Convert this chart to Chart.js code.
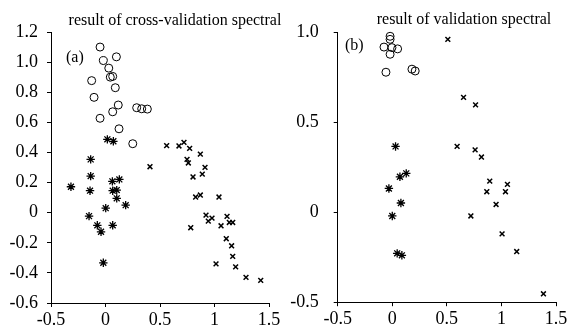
<!DOCTYPE html>
<html>
<head>
<meta charset="utf-8">
<script src="https://cdn.jsdelivr.net/npm/chart.js@4/dist/chart.umd.min.js"></script>
<style>
  html, body { margin: 0; padding: 0; background: #fff; }
  #wrap { position: relative; width: 571px; height: 328px; overflow: hidden; }
  #left { position: absolute; left: 0; top: 0; }
  #right { position: absolute; left: 290px; top: 0; }
</style>
</head>
<body>
<div id="wrap">
  <canvas id="left" width="290" height="328"></canvas>
  <canvas id="right" width="281" height="328"></canvas>
</div>
<script>
// Panel (a): cross-validation
const cvCircles = [[-0.05,1.10],[0.10,1.035],[-0.02,1.01],[0.03,0.96],[0.066,0.905],[0.044,0.90],[-0.127,0.877],[0.09,0.83],[-0.105,0.766],[0.117,0.715],[0.286,0.697],[0.332,0.69],[0.384,0.688],[0.066,0.67],[-0.05,0.627],[0.124,0.557],[0.25,0.458]];
const cvStars = [[0.017,0.487],[0.072,0.474],[-0.136,0.354],[-0.136,0.243],[-0.317,0.172],[-0.142,0.146],[0.063,0.208],[0.127,0.221],[0.066,0.146],[0.103,0.15],[0.103,0.095],[0.185,0.05],[0.002,0.03],[-0.151,-0.023],[-0.075,-0.084],[-0.041,-0.127],[0.066,-0.084],[-0.02,-0.333]];
const cvCrosses = [[0.561,0.445],[0.674,0.443],[0.72,0.467],[0.772,0.427],[0.87,0.389],[0.748,0.354],[0.76,0.33],[0.408,0.305],[0.913,0.301],[0.888,0.256],[0.803,0.237],[0.827,0.104],[0.87,0.117],[1.041,0.104],[0.922,-0.016],[0.943,-0.056],[0.977,-0.036],[0.782,-0.10],[1.06,-0.087],[1.115,-0.025],[1.136,-0.065],[1.167,-0.065],[1.108,-0.173],[1.157,-0.22],[1.167,-0.29],[1.014,-0.34],[1.194,-0.36],[1.289,-0.43],[1.424,-0.45]];

// Panel (b): validation
const vCircles = [[-0.02,0.98],[-0.02,0.963],[-0.076,0.92],[-0.003,0.917],[0.049,0.91],[-0.02,0.88],[-0.058,0.78],[0.18,0.797],[0.21,0.787]];
const vStars = [[0.03,0.367],[0.07,0.198],[0.128,0.217],[-0.031,0.133],[0.079,0.052],[0,-0.02],[0.045,-0.228],[0.088,-0.239]];
const vCrosses = [[0.509,0.963],[0.653,0.64],[0.763,0.598],[0.594,0.367],[0.759,0.348],[0.817,0.308],[0.893,0.174],[0.866,0.115],[1.055,0.156],[1.037,0.115],[0.951,0.044],[0.72,-0.02],[1.006,-0.12],[1.14,-0.218],[1.385,-0.453]];

// ticks
const xTicks = [-0.5, 0, 0.5, 1, 1.5];
const xLabels = ['-0.5', '0', '0.5', '1', '1.5'];
const cvYTicks = [-0.6, -0.4, -0.2, 0, 0.2, 0.4, 0.6, 0.8, 1.0, 1.2];
const cvYLabels = ['-0.6', '-0.4', '-0.2', '0', '0.2', '0.4', '0.6', '0.8', '1.0', '1.2'];
const vYTicks = [-0.5, 0, 0.5, 1.0];
const vYLabels = ['-0.5', '0', '0.5', '1.0'];

const FONT = '"Liberation Serif", "Times New Roman", serif';

function pts(arr) { return arr.map(p => ({ x: p[0], y: p[1] })); }

function datasets(circles, stars, crosses) {
    return [
        { data: pts(circles), pointStyle: 'circle', pointRadius: 4, borderColor: '#000', backgroundColor: 'rgba(0,0,0,0)', borderWidth: 1 },
        { data: pts(stars), pointStyle: 'star', pointRadius: 4.2, borderColor: '#000', backgroundColor: '#000', borderWidth: 1.3 },
        { data: pts(crosses), pointStyle: 'crossRot', pointRadius: 3.4, borderColor: '#000', backgroundColor: '#000', borderWidth: 1.5 }
    ];
}

function axis(values, labels, opts) {
    return Object.assign({
        type: 'linear',
        min: values[0],
        max: values[values.length - 1],
        afterBuildTicks: s => { s.ticks = values.map(v => ({ value: v })); },
        ticks: {
            color: '#000',
            font: { family: FONT, size: 18 },
            callback: (v, i) => labels[i],
            autoSkip: false,
            maxRotation: 0
        },
        grid: { display: true, drawOnChartArea: false, drawTicks: true, tickLength: 4, color: '#000' },
        border: { display: true, color: '#000', width: 1 }
    }, opts);
}

// text labels drawn relative to the canvas
function textPlugin(title, titleX, titleY, tag, tagX, tagY) {
    return {
        id: 'texts',
        afterDraw(chart) {
            const ctx = chart.ctx;
            ctx.save();
            ctx.fillStyle = '#000';
            ctx.font = '16px ' + FONT;
            ctx.textBaseline = 'alphabetic';
            ctx.textAlign = 'center';
            ctx.fillText(title, titleX, titleY);
            ctx.textAlign = 'left';
            ctx.fillText(tag, tagX, tagY);
            ctx.restore();
        }
    };
}

function makeChart(id, circles, stars, crosses, yValues, yLabels, yWidth, yPad, pad, plugin) {
    const y = axis(yValues, yLabels, { afterFit: s => { s.width = yWidth; } });
    y.ticks.padding = yPad;
    const x = axis(xTicks, xLabels, { afterFit: s => { s.height = 25; } });
    x.ticks.padding = 2;
    new Chart(document.getElementById(id), {
        type: 'scatter',
        data: { datasets: datasets(circles, stars, crosses) },
        options: {
            responsive: false,
            animation: false,
            clip: false,
            layout: { padding: pad },
            plugins: { legend: { display: false }, tooltip: { enabled: false } },
            scales: { x: x, y: y }
        },
        plugins: [plugin]
    });
}

makeChart('left', cvCircles, cvStars, cvCrosses, cvYTicks, cvYLabels, 51, 9,
    { top: 32, right: 21, bottom: 0, left: 0 },
    textPlugin('result of cross-validation spectral', 175, 25, '(a)', 66, 62));

makeChart('right', vCircles, vStars, vCrosses, vYTicks, vYLabels, 47.7, 15,
    { top: 32.7, right: 15, bottom: 0, left: 0 },
    textPlugin('result of validation spectral', 174, 24, '(b)', 55, 50));
</script>
</body>
</html>
